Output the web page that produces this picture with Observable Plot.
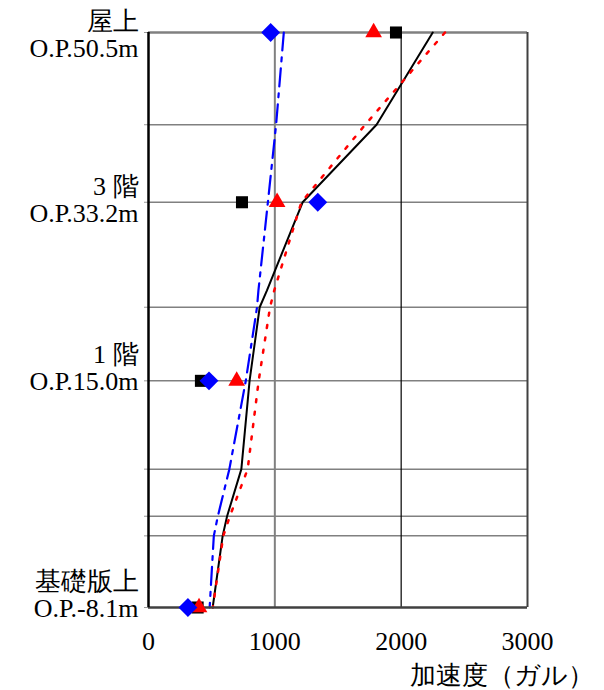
<!DOCTYPE html>
<html><head><meta charset="utf-8">
<script src="https://cdn.jsdelivr.net/npm/d3@7"></script>
<script src="https://cdn.jsdelivr.net/npm/@observablehq/plot@0.6"></script>
<style>
body{margin:0;background:#fff}
svg{display:block}
svg text{font-family:serif !important;}
</style>
</head><body><div id="chart"></div>
<script>
// profile levels (O.P. m)
const levels = [50.5, 41.1, 33.2, 24.2, 22.5, 15.0, 6.0, 1.2, -0.8, -8.1];
const blackLine = [2250, 1805, 1220, 937, 880, 800, 735, 622, 587, 508];
const redLine   = [2347, 1715, 1210, 995, 962, 872, 785, 644, 592, 509];
const blueLine  = [1071, 1010, 945, 870, 859, 770, 640, 549, 517, 484];
// observed points
const markerLevels = [50.5, 33.2, 15.0, -8.1];
const blackSquares = [1959, 740, 415, 389];
const redTriangles = [1782, 1018, 698, 400];
const blueDiamonds = [967, 1340, 479, 312];
// grid & labels
const gridLevels = [41.1, 33.2, 22.5, 15.0, 6.0, 1.2, -0.8];
const floorLabels = ["屋上\nO.P.50.5m", "3 階\nO.P.33.2m", "1 階\nO.P.15.0m", "基礎版上\nO.P.-8.1m"];
const xTicks = [0, 1000, 2000, 3000];
const xTitle = "加速度（ガル）";

const rows = (vals) => levels.map((h, i) => ({h, v: vals[i]}));
const pts = (vals) => markerLevels.map((h, i) => ({h, v: vals[i]}));
const labelDy = [2, -2.5, -12.7, -13];

const chart = Plot.plot({
  width: 604, height: 690,
  marginLeft: 148, marginRight: 77, marginTop: 32, marginBottom: 83,
  style: {fontFamily: "serif", fontSize: "26px", background: "#fff", color: "#000"},
  x: {domain: [0, 3000]},
  y: {domain: [-8.1, 50.5]},
  marks: [
    Plot.ruleY(gridLevels, {stroke: "#808080", strokeWidth: 1.5}),
    Plot.ruleX([1000], {stroke: "#808080", strokeWidth: 2}),
    Plot.ruleX([2000], {stroke: "#000", strokeWidth: 1.2}),
    Plot.ruleY([50.5], {stroke: "#808080", strokeWidth: 2.5}),
    Plot.ruleX([3000], {stroke: "#404040", strokeWidth: 2}),
    Plot.axisY([50.5, ...gridLevels, -8.1], {tickSize: 4, stroke: "#999", tickFormat: () => "", label: null}),
    Plot.line(rows(blueLine), {x: "v", y: "h", stroke: "#0000ff", strokeWidth: 2.2, strokeDasharray: "18,7,4,7"}),
    Plot.line(rows(blackLine), {x: "v", y: "h", stroke: "#000", strokeWidth: 2}),
    Plot.line(rows(redLine), {x: "v", y: "h", stroke: "#ff0000", strokeWidth: 2.5, strokeDasharray: "3,9.5"}),
    Plot.ruleY([-8.1], {stroke: "#404040", strokeWidth: 2.5}),
    Plot.ruleX([0], {stroke: "#000", strokeWidth: 2.5}),
    Plot.dot(pts(blackSquares), {x: "v", y: "h", symbol: "square", r: 6.8, fill: "#000", stroke: "none"}),
    Plot.dot(pts(redTriangles), {x: "v", y: "h", symbol: "triangle", r: 6.2, fill: "#ff0000", stroke: "none"}),
    Plot.dot(pts(blueDiamonds), {x: "v", y: "h", symbol: "diamond2", r: 8.5, fill: "#0000ff", stroke: "none"}),
    ...floorLabels.map((t, i) => Plot.text([t], {y: () => markerLevels[i], frameAnchor: "left", textAnchor: "end", lineAnchor: "middle", dx: -10, dy: labelDy[i], lineHeight: 1.04, fontSize: 26, fill: "#000"})),
    Plot.axisX(xTicks, {tickSize: 0, tickPadding: 24, tickFormat: d => String(d), label: null, fontSize: 26}),
    Plot.text([xTitle], {frameAnchor: "bottom-right", lineAnchor: "middle", dx: 66, dy: 68, fontSize: 26, textAnchor: "end", fill: "#000"})
  ]
});
document.getElementById("chart").appendChild(chart);
</script>
</body></html>
